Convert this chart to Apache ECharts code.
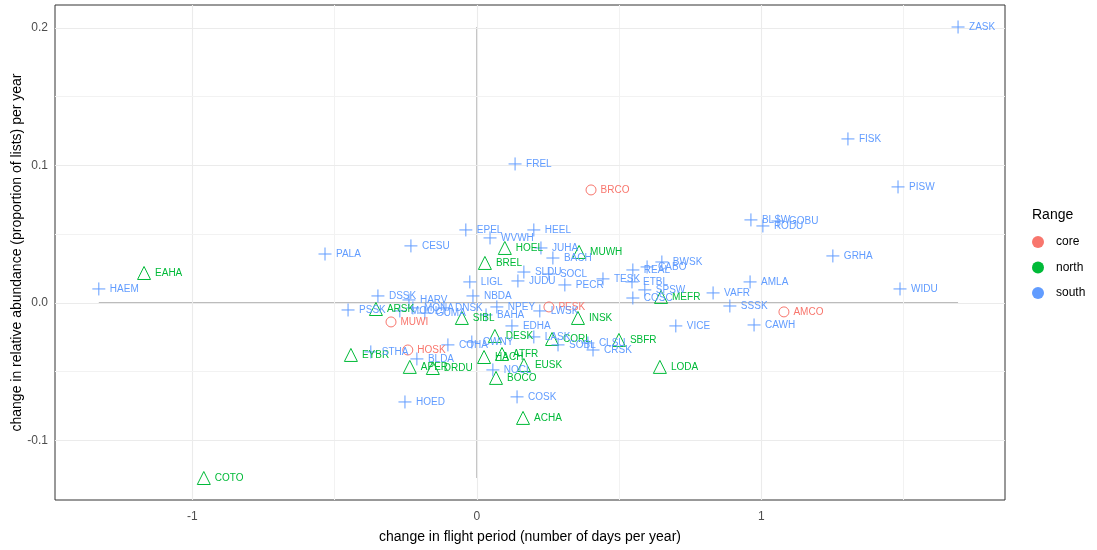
<!DOCTYPE html>
<html>
<head>
<meta charset="utf-8">
<script src="https://cdn.jsdelivr.net/npm/echarts@6/dist/echarts.min.js"></script>
<style>html,body{margin:0;padding:0;background:#fff}#c{width:1097px;height:550px}</style>
</head>
<body>
<div id="c"></div>
<script>
// ---- data ----
const coreNames = ["BRCO","PESK","AMCO","MUWI","HOSK"];
const coreX = [0.401, 0.253, 1.079, -0.302, -0.243];
const coreY = [0.0822, -0.0029, -0.0065, -0.0138, -0.0342];

const northNames = ["HOEL","BREL","MUWH","EAHA","COTO","MEFR","ARSK","SIBL","INSK","DESK","CORL","SBFR","LODA","ATFR","HACH","EUSK","BOCO","ACHA","EYBR","APER","DRDU"];
const northX = [0.098, 0.028, 0.359, -1.170, -0.960, 0.647, -0.355, -0.053, 0.355, 0.063, 0.264, 0.499, 0.643, 0.088, 0.025, 0.165, 0.067, 0.162, -0.443, -0.236, -0.155];
const northY = [0.0400, 0.0291, 0.0371, 0.0218, -0.1273, 0.0044, -0.0044, -0.0109, -0.0109, -0.0240, -0.0262, -0.0269, -0.0465, -0.0371, -0.0393, -0.0451, -0.0545, -0.0836, -0.0378, -0.0465, -0.0473];

const southNames = ["ZASK","FISK","PISW","GRHA","WIDU","BLSW","RODU","GOBU","AMLA","VAFR","SSSK","CAWH","VICE","FREL","HEEL","EPEL","WVWH","CESU","PALA","HAEM","JUHA","BACH","SLDU","SOCL","JUDU","PECR","TESK","REAL","CABO","BWSK","ETBL","SPSW","COSC","LIGL","NBDA","DSSK","HARV","PSSK","MOOL","MONA","GUMA","DNSK","NPEY","BAHA","EDHA","LWSK","COHA","CWNY","LASK","SOBL","CLSU","CRSK","NOCL","COSK","HOED","STHA","BLDA"];
const southX = [1.691, 1.304, 1.480, 1.251, 1.487, 0.963, 1.005, 1.058, 0.960, 0.830, 0.889, 0.974, 0.699, 0.134, 0.200, -0.039, 0.046, -0.232, -0.534, -1.329, 0.225, 0.267, 0.165, 0.253, 0.144, 0.309, 0.443, 0.548, 0.598, 0.650, 0.545, 0.590, 0.548, -0.025, -0.014, -0.348, -0.239, -0.453, -0.271, -0.225, -0.183, -0.116, 0.070, 0.032, 0.123, 0.221, -0.102, -0.018, 0.200, 0.285, 0.390, 0.408, 0.056, 0.141, -0.253, -0.373, -0.211];
const southY = [0.2007, 0.1193, 0.0844, 0.0342, 0.0102, 0.0604, 0.0560, 0.0596, 0.0153, 0.0073, -0.0022, -0.0160, -0.0167, 0.1011, 0.0531, 0.0531, 0.0473, 0.0415, 0.0356, 0.0102, 0.0400, 0.0327, 0.0225, 0.0211, 0.0160, 0.0131, 0.0175, 0.0240, 0.0262, 0.0298, 0.0153, 0.0095, 0.0036, 0.0153, 0.0051, 0.0051, 0.0022, -0.0051, -0.0058, -0.0036, -0.0073, -0.0036, -0.0029, -0.0087, -0.0167, -0.0058, -0.0305, -0.0284, -0.0247, -0.0305, -0.0291, -0.0342, -0.0487, -0.0683, -0.0720, -0.0356, -0.0407];

const groups = ["core", "north", "south"];
const xTicks = [-1, 0, 1];
const yTicks = [-0.1, 0, 0.1, 0.2];
const xMinor = [-0.5, 0.5, 1.5];
const yMinor = [-0.05, 0.05, 0.15];

// ---- chart ----
const colors = {core: "#F8766D", north: "#00BA38", south: "#619CFF"};
const FONT = "Liberation Sans, Arial, sans-serif";
const PLUS = "path://M5,0L5,10M0,5L10,5";

function pts(names, xs, ys) { return names.map((n, i) => ({name: n, value: [xs[i], ys[i]]})); }

const allX = coreX.concat(northX, southX);
const allY = coreY.concat(northY, southY);
const xLo = Math.min(...allX), xHi = Math.max(...allX);
const yLo = Math.min(...allY), yHi = Math.max(...allY);

function pointSeries(name, data, symbol, size) {
  return {
    name: name, type: "scatter", data: data, symbol: symbol, symbolSize: size, z: 5,
    itemStyle: {color: "rgba(0,0,0,0)", borderColor: colors[name], borderWidth: 1, opacity: 1},
    label: {show: true, position: "right", distance: 4, formatter: "{b}", color: colors[name],
            fontFamily: FONT, fontSize: 10},
    emphasis: {disabled: true}
  };
}

const major = {color: "#ebebeb", width: 1.1, type: "solid"};
const minor = {color: "#f2f2f2", width: 1, type: "solid"};
const gridLines = [];
xTicks.forEach(v => gridLines.push({xAxis: v, lineStyle: major}));
xMinor.forEach(v => gridLines.push({xAxis: v, lineStyle: minor}));
yTicks.forEach(v => gridLines.push({yAxis: v, lineStyle: major}));
yMinor.forEach(v => gridLines.push({yAxis: v, lineStyle: minor}));

const chart = echarts.init(document.getElementById("c"), null, {renderer: "canvas"});
chart.setOption({
  animation: false,
  backgroundColor: "#ffffff",
  title: {text: "Range", left: 1027, top: 203, textStyle: {fontFamily: FONT, fontSize: 14, fontWeight: "normal", color: "#000"}},
  legend: {
    orient: "vertical", left: 1027, top: 231, itemWidth: 20, itemHeight: 12, itemGap: 13.5,
    icon: "circle", selectedMode: false,
    textStyle: {fontFamily: FONT, fontSize: 12, color: "#000", padding: [0, 0, 0, 3]},
    data: groups.map(g => ({name: g, icon: "circle", itemStyle: {color: colors[g], borderWidth: 0}}))
  },
  grid: {left: 55, right: 92, top: 5, bottom: 50, containLabel: false, outerBoundsMode: "none",
         show: true, borderColor: "#333", borderWidth: 1, backgroundColor: "#fff"},
  xAxis: {
    type: "value", min: -1.483, max: 1.856,
    name: "change in flight period (number of days per year)", nameLocation: "middle", nameGap: 30,
    nameMoveOverlap: false,
    nameTextStyle: {fontFamily: FONT, fontSize: 14, color: "#000"},
    axisLine: {show: false},
    axisTick: {show: true, length: 4, customValues: xTicks, lineStyle: {color: "#333"}},
    axisLabel: {customValues: xTicks, fontFamily: FONT, fontSize: 12, color: "#4d4d4d", margin: 11,
                formatter: v => String(v)},
    splitLine: {show: false}
  },
  yAxis: {
    type: "value", min: -0.1433, max: 0.2167,
    name: "change in relative abundance (proportion of lists) per year", nameLocation: "middle", nameGap: 31,
    nameMoveOverlap: false,
    nameTextStyle: {fontFamily: FONT, fontSize: 14, color: "#000"},
    axisLine: {show: false},
    axisTick: {show: true, length: 4, customValues: yTicks, lineStyle: {color: "#333"}},
    axisLabel: {customValues: yTicks, fontFamily: FONT, fontSize: 12, color: "#4d4d4d", margin: 7,
                formatter: v => v.toFixed(1)},
    splitLine: {show: false}
  },
  series: [
    {name: "_grid", type: "line", data: [], z: 1, silent: true,
     markLine: {silent: true, symbol: "none", label: {show: false}, animation: false, data: gridLines}},
    {name: "_h", type: "line", data: [[xLo, 0], [xHi, 0]], symbol: "none", z: 2, silent: true,
     lineStyle: {color: "#a6a6a6", width: 1.2}},
    {name: "_v", type: "line", data: [[0, yLo], [0, yHi]], symbol: "none", z: 2, silent: true,
     lineStyle: {color: "#a6a6a6", width: 1.2}},
    pointSeries("core", pts(coreNames, coreX, coreY), "circle", 10),
    pointSeries("north", pts(northNames, northX, northY), "triangle", 13),
    pointSeries("south", pts(southNames, southX, southY), PLUS, 13)
  ]
});
</script>
</body>
</html>
